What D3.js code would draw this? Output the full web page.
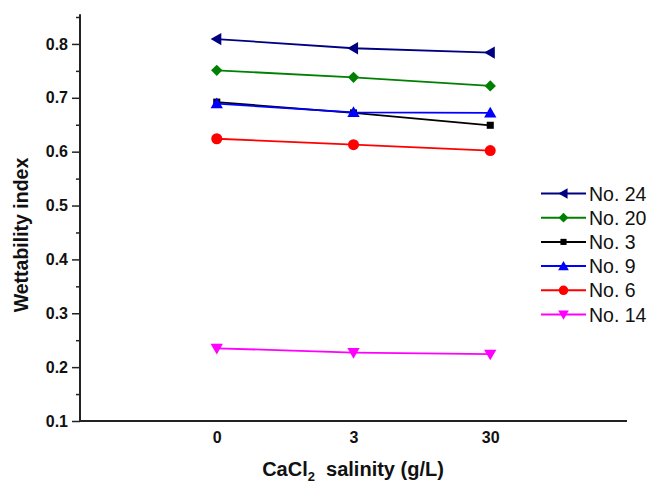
<!DOCTYPE html>
<html><head><meta charset="utf-8">
<script src="https://cdn.jsdelivr.net/npm/d3@7"></script>
<style>body{margin:0;background:#fff}svg{display:block}text{font-family:Arial,"Liberation Sans",sans-serif}</style>
</head><body><svg id="c" width="651" height="484"></svg>
<script>
const categories = ["0", "3", "30"];
const seriesNames = ["No. 24", "No. 20", "No. 3", "No. 9", "No. 6", "No. 14"];
const no24 = [0.809, 0.792, 0.784];
const no20 = [0.751, 0.738, 0.722];
const no3  = [0.692, 0.672, 0.649];
const no9  = [0.689, 0.673, 0.672];
const no6  = [0.624, 0.613, 0.602];
const no14 = [0.235, 0.227, 0.224];
const yTicks = [0.1, 0.2, 0.3, 0.4, 0.5, 0.6, 0.7, 0.8];
const yMinor = [0.15, 0.25, 0.35, 0.45, 0.55, 0.65, 0.75, 0.85];

const colors = ["#000080", "#008000", "#000000", "#0000ff", "#ff0000", "#ff00ff"];
const shapes = ["triLeft", "diamond", "square", "triUp", "circle", "triDown"];
const values = [no24, no20, no3, no9, no6, no14];

const svg = d3.select("#c");
const L = 80, R = 627, T = 17, B = 421;
const x = d3.scalePoint().domain(categories).range([L, R]).padding(1);
const y = d3.scaleLinear().domain([0.1, 0.85]).range([B, T]);

// Y axis
const yAx = svg.append("g").attr("transform", `translate(${L},0)`)
  .call(d3.axisLeft(y).tickValues(yTicks).tickSize(8).tickPadding(4).tickFormat(d3.format(".1f")));
yAx.select(".domain").remove();
yAx.selectAll(".tick line").attr("stroke", "#222").attr("stroke-width", 1.5);
yAx.selectAll(".tick text").attr("font-size", 16).attr("font-weight", "bold").attr("fill", "#111");
const yMin = svg.append("g").attr("transform", `translate(${L},0)`)
  .call(d3.axisLeft(y).tickValues(yMinor).tickSize(4).tickFormat(""));
yMin.select(".domain").remove();
yMin.selectAll(".tick line").attr("stroke", "#222").attr("stroke-width", 1.5);
svg.append("line").attr("x1", L).attr("x2", L).attr("y1", y(0.855)).attr("y2", B + 1).attr("stroke", "#222").attr("stroke-width", 2);

// X axis
const xAx = svg.append("g").attr("transform", `translate(0,${B})`)
  .call(d3.axisBottom(x).tickSize(0).tickPadding(11));
xAx.select(".domain").remove();
xAx.selectAll(".tick text").attr("font-size", 16).attr("font-weight", "bold").attr("fill", "#111");
svg.append("line").attr("x1", L - 1).attr("x2", R).attr("y1", B).attr("y2", B).attr("stroke", "#222").attr("stroke-width", 2);

// Titles
const xt = svg.append("text").attr("x", 353).attr("y", 476).attr("text-anchor", "middle")
  .attr("font-size", 20).attr("font-weight", "bold").attr("fill", "#111");
xt.append("tspan").text("CaCl");
xt.append("tspan").attr("font-size", 13).attr("dy", 5).text("2");
xt.append("tspan").attr("dy", -5).text("\u00a0 salinity (g/L)");
svg.append("text").attr("transform", "translate(28,235) rotate(-90)").attr("text-anchor", "middle")
  .attr("font-size", 19.5).attr("font-weight", "bold").attr("fill", "#111").text("Wettability index");

function marker(g, shape, color, k) {
  let p;
  if (shape === "circle") p = d3.symbol(d3.symbolCircle, 95 * k)();
  else if (shape === "square") p = d3.symbol(d3.symbolSquare, 50 * k)();
  else if (shape === "diamond") p = d3.symbol(d3.symbolSquare, 64 * k)();
  else p = d3.symbol(d3.symbolTriangle, 66 * k)();
  const rot = {triLeft: -90, triDown: 180, diamond: 45}[shape] || 0;
  const dy = {triUp: 1, triDown: -1}[shape] || 0;
  const dx = shape === "triLeft" ? 1 : 0;
  g.append("path").attr("d", p).attr("fill", color)
    .attr("transform", `translate(${dx},${dy}) rotate(${rot})`);
}

const line = d3.line().x((d, i) => x(categories[i])).y(d => y(d));
values.forEach((vals, s) => {
  svg.append("path").datum(vals).attr("d", line).attr("fill", "none")
    .attr("stroke", colors[s]).attr("stroke-width", 1.8);
});
values.forEach((vals, s) => {
  vals.forEach((v, i) => {
    const g = svg.append("g").attr("transform", `translate(${x(categories[i])},${y(v)})`);
    marker(g, shapes[s], colors[s], 1);
  });
});

// Legend
seriesNames.forEach((n, i) => {
  const ly = 193.5 + i * 24.2;
  svg.append("line").attr("x1", 541).attr("x2", 586).attr("y1", ly).attr("y2", ly)
    .attr("stroke", colors[i]).attr("stroke-width", 2);
  const g = svg.append("g").attr("transform", `translate(563.5,${ly})`);
  marker(g, shapes[i], colors[i], 0.75);
  svg.append("text").attr("x", 589).attr("y", ly + 7).attr("font-size", 19.5).attr("fill", "#111").text(n);
});
</script></body></html>
